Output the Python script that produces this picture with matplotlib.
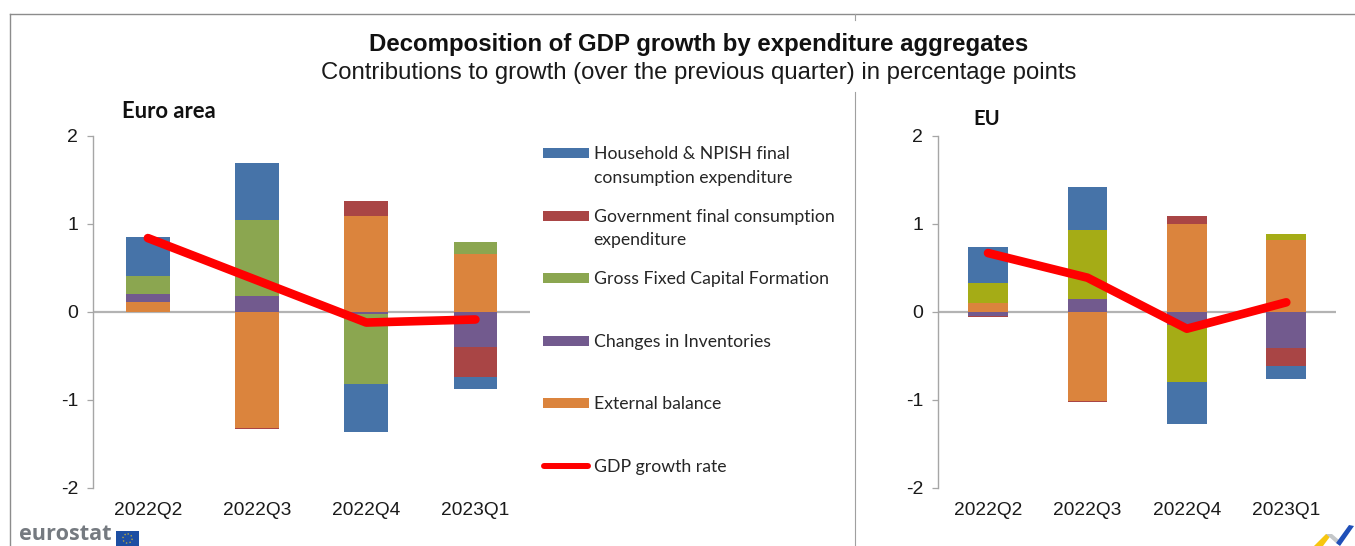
import numpy as np
import matplotlib
matplotlib.use('Agg')
import matplotlib.pyplot as plt
from matplotlib.patches import Rectangle, Polygon, Circle

W, H = 1355, 546

quarters = ['2022Q2', '2022Q3', '2022Q4', '2023Q1']
y_ticks = [-2, -1, 0, 1, 2]

# contributions, in stacking order away from zero
ea_external = [0.11, -1.32, 1.09, 0.66]
ea_inventories = [0.09, 0.18, -0.02, -0.40]
ea_gfcf = [0.21, 0.87, -0.795, 0.13]
ea_government = [0.0, -0.015, 0.17, -0.34]
ea_household = [0.44, 0.64, -0.55, -0.14]
ea_gdp = [0.84, 0.36, -0.12, -0.085]

eu_external = [0.10, -1.01, 1.00, 0.82]
eu_inventories = [-0.04, 0.15, -0.15, -0.41]
eu_gfcf = [0.235, 0.78, -0.64, 0.065]
eu_government = [-0.015, -0.012, 0.095, -0.20]
eu_household = [0.405, 0.485, -0.48, -0.155]
eu_gdp = [0.67, 0.39, -0.19, 0.11]

BLUE = '#4673a8'
RED = '#a94545'
GREEN = '#8ba650'
OLIVE = '#a5ac16'
PURPLE = '#725a8e'
ORANGE = '#db843d'
GREY = '#a6a6a6'
TXT = '#1a1a1a'

legend_rows = [
    (['Household & NPISH final', 'consumption expenditure'], BLUE, [153, 177]),
    (['Government final consumption', 'expenditure'], RED, [216, 239]),
    (['Gross Fixed Capital Formation'], GREEN, [278]),
    (['Changes in Inventories'], PURPLE, [341]),
    (['External balance'], ORANGE, [403]),
]

plt.rcParams['font.family'] = ['Liberation Sans', 'DejaVu Sans']
plt.rcParams['axes.unicode_minus'] = False


def make_axes(fig, x0, x1, y_top, y_bot):
    return fig.add_axes([x0 / W, 1 - y_bot / H, (x1 - x0) / W, (y_bot - y_top) / H])


def draw_panel(ax, series, gdp):
    x = np.arange(len(quarters))
    pos_base = np.zeros(len(quarters))
    neg_base = np.zeros(len(quarters))
    for values, color in series:
        values = np.array(values)
        bottoms = np.where(values >= 0, pos_base, neg_base)
        ax.bar(x, values, width=0.4, bottom=bottoms, color=color, linewidth=0, zorder=3)
        pos_base += np.clip(values, 0, None)
        neg_base += np.clip(values, None, 0)
    ax.axhline(0, color='#b3b3b3', lw=1.6, zorder=2)
    ax.plot(x, gdp, color='#ff0000', lw=6.2, solid_capstyle='round',
            solid_joinstyle='round', zorder=5)

    ax.set_xlim(-0.5, 3.5)
    ax.set_ylim(-2, 2)
    ax.set_yticks(y_ticks)
    ax.set_xticks(x)
    ax.set_xticklabels(quarters, fontsize=13.8, color=TXT)
    ax.tick_params(axis='x', length=0, pad=10)
    ax.tick_params(axis='y', length=4.5, width=0.9, color=GREY, labelsize=14, pad=6.5, labelcolor=TXT)
    for side in ['top', 'right', 'bottom']:
        ax.spines[side].set_visible(False)
    ax.spines['left'].set_color(GREY)
    ax.spines['left'].set_linewidth(1.0)
    ax.patch.set_alpha(0)


fig = plt.figure(figsize=(W / 100, H / 100), dpi=100, facecolor='white')

# overlay in pixel coordinates for the frame, legend and logos
bg = fig.add_axes([0, 0, 1, 1])
bg.set_xlim(0, W)
bg.set_ylim(H, 0)
bg.axis('off')

# frame and divider
bg.plot([9.5, W], [13.5, 13.5], color='#8c8c8c', lw=1.0)
bg.plot([9.5, 9.5], [13.5, H], color='#8c8c8c', lw=1.0)
bg.plot([854.5, 854.5], [13.5, 20], color='#a0a0a0', lw=0.8)
bg.plot([854.5, 854.5], [92, H], color='#a0a0a0', lw=0.8)

ax1 = make_axes(fig, 93.3, 530, 136, 488)
draw_panel(ax1, [(ea_external, ORANGE), (ea_inventories, PURPLE), (ea_gfcf, GREEN),
                 (ea_government, RED), (ea_household, BLUE)], ea_gdp)

ax2 = make_axes(fig, 938.3, 1336, 136, 488)
draw_panel(ax2, [(eu_external, ORANGE), (eu_inventories, PURPLE), (eu_gfcf, OLIVE),
                 (eu_government, RED), (eu_household, BLUE)], eu_gdp)

# titles
bg.text(699, 44, 'Decomposition of GDP growth by expenditure aggregates', ha='center', va='center',
        fontsize=17.3, fontweight='bold', color='#111111')
bg.text(699, 72.5, 'Contributions to growth (over the previous quarter) in percentage points', ha='center',
        va='center', fontsize=17.2, color=TXT)
bg.text(122, 111, 'Euro area', ha='left', va='center', fontsize=15.8, fontweight='bold',
        family='Lato', color='#111111')
bg.text(973, 119, 'EU', ha='left', va='center', fontsize=14.5, fontweight='bold',
        family='Lato', color='#111111')

# legend
for lines, color, ys in legend_rows:
    bg.add_patch(Rectangle((543, ys[0] - 5), 46, 10, facecolor=color, edgecolor='none'))
    for line, y in zip(lines, ys):
        bg.text(593.5, y + 1, line, ha='left', va='center', fontsize=12.7, family='Lato', color='#262626')
bg.plot([544, 588], [466, 466], color='#ff0000', lw=4.3, solid_capstyle='round')
bg.text(593.5, 467, 'GDP growth rate', ha='left', va='center', fontsize=12.7, family='Lato', color='#262626')

# eurostat logo
bg.text(19, 540.5, 'eurostat', ha='left', va='baseline', fontsize=15.6, fontweight='bold',
        family='Open Sans', color='#757a80', clip_on=False)
bg.add_patch(Rectangle((116, 531), 23, 15, facecolor='#1d4fa3', edgecolor='none'))
bg.add_patch(Circle((127.5, 538.5), 4.6, fill=False, edgecolor='#b5a642', lw=1.0, ls=':'))

# corner logo
bg.add_patch(Polygon([(1314, 546), (1326, 534), (1332, 534), (1323, 546)], facecolor='#f7c60f', edgecolor='none'))
bg.add_patch(Polygon([(1326, 534), (1332, 534), (1339, 540), (1336, 543)], facecolor='#c4c7c9', edgecolor='none'))
bg.add_patch(Polygon([(1336, 543), (1349, 525), (1354, 526), (1340, 546)], facecolor='#1f4fb8', edgecolor='none'))

fig.savefig('out.png', dpi=100)
